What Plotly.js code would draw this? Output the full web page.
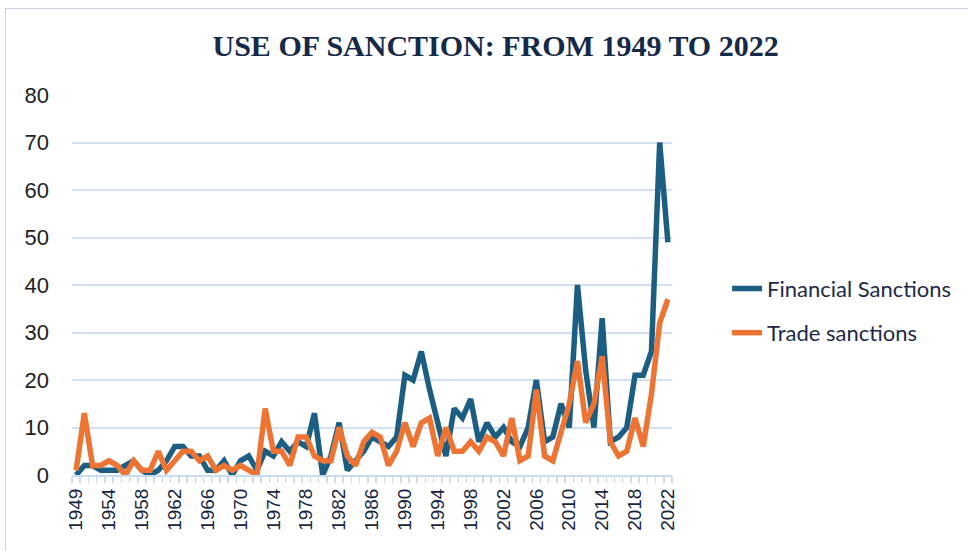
<!DOCTYPE html>
<html>
<head>
<meta charset="utf-8">
<script src="https://cdn.plot.ly/plotly-3.0.1.min.js"></script>
<style>
  html, body { margin: 0; padding: 0; background: #ffffff; }
  #frame { position: absolute; left: 5px; top: 8px; width: 1000px; height: 600px; border: 1.5px solid #c4d7ee; box-sizing: border-box; }
  #chart { position: absolute; left: 0; top: 0; width: 968px; height: 551px; }
</style>
</head>
<body>
<div id="frame"></div>
<div id="chart"></div>
<script>
// Years (one year in the early 1950s is absent from the source series)
const years = [
  "1949","1950","1951","1952","1954","1955","1956","1957","1958","1959",
  "1960","1961","1962","1963","1964","1965","1966","1967","1968","1969",
  "1970","1971","1972","1973","1974","1975","1976","1977","1978","1979",
  "1980","1981","1982","1983","1984","1985","1986","1987","1988","1989",
  "1990","1991","1992","1993","1994","1995","1996","1997","1998","1999",
  "2000","2001","2002","2003","2004","2005","2006","2007","2008","2009",
  "2010","2011","2012","2013","2014","2015","2016","2017","2018","2019",
  "2020","2021","2022"
];

const financialSanctions = [
  0, 2, 2, 1, 1, 1, 2, 3, 1, 0,
  1, 3, 6, 6, 4, 4, 1, 1, 3, 0,
  3, 4, 1, 5, 4, 7, 5, 7, 6, 13,
  0, 4, 11, 1, 3, 5, 8, 7, 6, 8,
  21, 20, 26, 18, 11, 4, 14, 12, 16, 7,
  11, 8, 10, 7, 6, 10, 20, 7, 8, 15,
  10, 40, 22, 10, 33, 7, 8, 10, 21, 21,
  26, 70, 49
];

const tradeSanctions = [
  1, 13, 2, 2, 3, 2, 0, 3, 1, 1,
  5, 1, 3, 5, 5, 3, 4, 1, 2, 1,
  2, 1, 0, 14, 5, 5, 2, 8, 8, 4,
  3, 3, 10, 4, 2, 7, 9, 8, 2, 5,
  11, 6, 11, 12, 4, 10, 5, 5, 7, 5,
  8, 7, 4, 12, 3, 4, 18, 4, 3, 9,
  15, 24, 11, 15, 25, 7, 4, 5, 12, 6,
  17, 32, 37
];

const tickLabels = ["1949","1954","1958","1962","1966","1970","1974","1978","1982","1986",
  "1990","1994","1998","2002","2006","2010","2014","2018","2022"];

const seriesNames = ["Financial Sanctions", "Trade sanctions"];
const seriesColors = ["#1b5e82", "#ed7432"];

const traces = [
  {
    x: years, y: financialSanctions, name: seriesNames[0], type: "scatter", mode: "lines",
    line: { color: seriesColors[0], width: 5.5, shape: "linear" },
    legend: "legend"
  },
  {
    x: years, y: tradeSanctions, name: seriesNames[1], type: "scatter", mode: "lines",
    line: { color: seriesColors[1], width: 5.5, shape: "linear" },
    legend: "legend2"
  }
];

const layout = {
  width: 968, height: 551,
  paper_bgcolor: "rgba(0,0,0,0)",
  plot_bgcolor: "rgba(0,0,0,0)",
  margin: { l: 72, r: 295, t: 95, b: 76 },
  title: {
    text: "<b>USE OF SANCTION: FROM 1949 TO 2022</b>",
    font: { family: "Liberation Serif, Times New Roman, serif", size: 30, color: "#162a48" },
    x: 0.512, xanchor: "center", xref: "container",
    y: 0.918, yanchor: "middle", yref: "container"
  },
  xaxis: {
    type: "category",
    range: [-0.5, years.length - 0.5],
    tickmode: "array",
    tickvals: years,
    ticktext: years.map(y => tickLabels.includes(y) ? y : ""),
    tickson: "boundaries",
    ticks: "outside", ticklen: 6, tickwidth: 1.5, tickcolor: "#c9dbef",
    tickangle: -90,
    ticklabelstandoff: 4,
    tickfont: { family: "Liberation Sans, Arial, sans-serif", size: 19, color: "#17263f" },
    showline: true, linecolor: "#c9dbef", linewidth: 2,
    showgrid: false, zeroline: false,
    fixedrange: true
  },
  yaxis: {
    range: [0, 80], dtick: 10, tick0: 0,
    showgrid: true, gridcolor: "#d3e2f3", gridwidth: 2,
    zeroline: false, showline: false, ticks: "",
    ticklabelstandoff: 22,
    tickfont: { family: "Liberation Sans, Arial, sans-serif", size: 22, color: "#222222" },
    fixedrange: true
  },
  showlegend: true,
  legend: {
    x: 1.09, xanchor: "left", y: 0.49, yanchor: "middle", xref: "paper", yref: "paper",
    font: { family: "Lato, Open Sans, sans-serif", size: 22, color: "#1c2b45" },
    bgcolor: "rgba(0,0,0,0)", itemwidth: 30
  },
  legend2: {
    x: 1.09, xanchor: "left", y: 0.374, yanchor: "middle", xref: "paper", yref: "paper",
    font: { family: "Lato, Open Sans, sans-serif", size: 22, color: "#1c2b45" },
    bgcolor: "rgba(0,0,0,0)", itemwidth: 30
  }
};

Plotly.newPlot("chart", traces, layout, { displayModeBar: false, staticPlot: true });
</script>
</body>
</html>
